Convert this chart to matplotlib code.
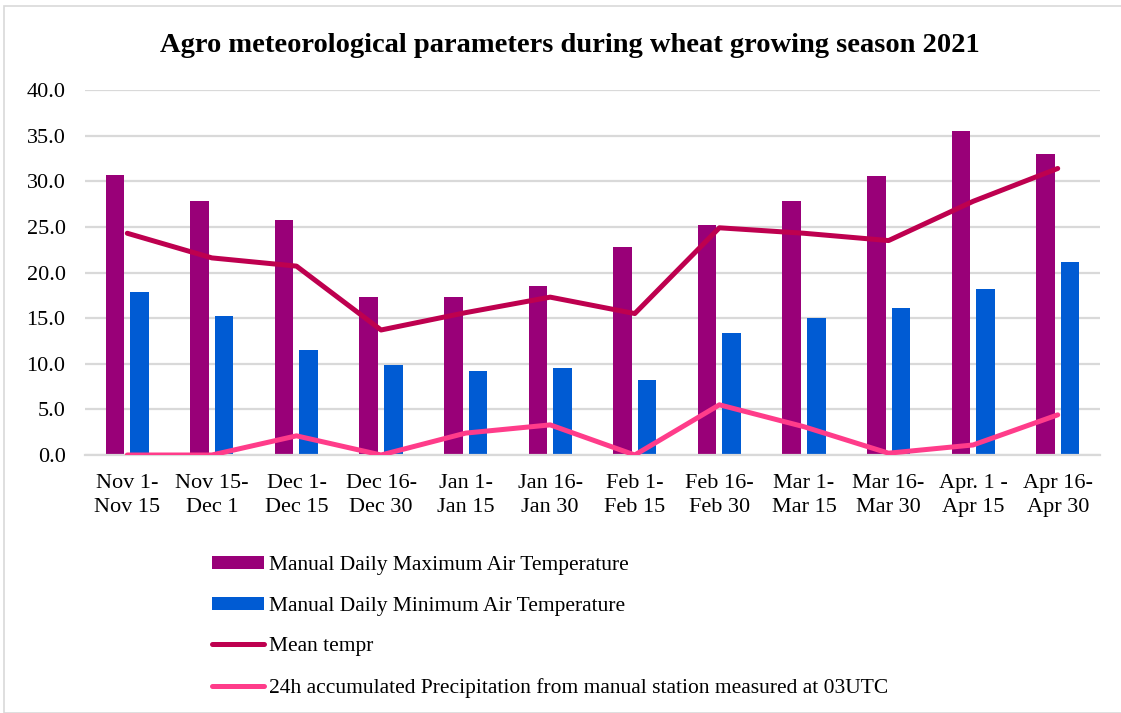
import numpy as np
import matplotlib
matplotlib.use("Agg")
import matplotlib.pyplot as plt
from matplotlib.patches import Rectangle

# data
periods = ["Nov 1-\nNov 15", "Nov 15-\nDec 1", "Dec 1-\nDec 15", "Dec 16-\nDec 30",
           "Jan 1-\nJan 15", "Jan 16-\nJan 30", "Feb 1-\nFeb 15", "Feb 16-\nFeb 30",
           "Mar 1-\nMar 15", "Mar 16-\nMar 30", "Apr. 1 -\nApr 15", "Apr 16-\nApr 30"]
t_max = [30.7, 27.8, 25.7, 17.3, 17.3, 18.5, 22.8, 25.2, 27.8, 30.6, 35.5, 33.0]
t_min = [17.9, 15.2, 11.5, 9.9, 9.2, 9.5, 8.2, 13.4, 15.0, 16.1, 18.2, 21.1]
t_mean = [24.3, 21.6, 20.7, 13.7, 15.6, 17.3, 15.5, 24.9, 24.3, 23.5, 27.8, 31.4]
precip = [0.0, 0.0, 2.1, 0.0, 2.4, 3.3, 0.0, 5.5, 3.1, 0.2, 1.1, 4.4]
yticks = [0, 5, 10, 15, 20, 25, 30, 35, 40]

c_max = "#990078"
c_min = "#005BD3"
c_mean = "#BE004F"
c_prec = "#FF3C8A"
c_grid = "#D9D9D9"

plt.rcParams["font.family"] = ["Liberation Serif", "DejaVu Serif"]

fig = plt.figure(figsize=(11.21, 7.13), dpi=100)
ax = fig.add_axes([85 / 1121, 1 - 455 / 713, 1015 / 1121, 365 / 713])

x = np.arange(len(periods))
w = 0.22
ax.bar(x - 0.145, t_max, width=w, color=c_max, zorder=2,
       label="Manual Daily Maximum Air Temperature")
ax.bar(x + 0.145, t_min, width=w, color=c_min, zorder=2,
       label="Manual Daily Minimum Air Temperature")
ax.plot(x, t_mean, color=c_mean, lw=3.6, solid_joinstyle="round",
        solid_capstyle="round", zorder=3, label="Mean tempr")
ax.plot(x, precip, color=c_prec, lw=3.6, solid_joinstyle="round",
        solid_capstyle="round", zorder=3,
        label="24h accumulated Precipitation from manual station measured at 03UTC")

ax.set_xlim(-0.5, len(periods) - 0.5)
ax.set_ylim(0, 40)
ax.set_yticks(yticks)
ax.set_yticklabels([f"{v:.1f}" for v in yticks])
ax.set_xticks(x)
ax.set_xticklabels(periods, linespacing=1.35)
ax.tick_params(axis="both", length=0, labelsize=16)
ax.tick_params(axis="y", pad=14)
ax.tick_params(axis="x", pad=14)
ax.grid(axis="y", color=c_grid, lw=1.6, zorder=0)
for s in ["top", "right", "left"]:
    ax.spines[s].set_visible(False)
ax.spines["bottom"].set_color(c_grid)
ax.spines["bottom"].set_linewidth(1.6)

fig.suptitle("Agro meteorological parameters during wheat growing season 2021",
             x=0.508, y=1 - 45 / 713, va="center", fontsize=20.5, fontweight="bold")

handles, labels = ax.get_legend_handles_labels()
order = [2, 3, 0, 1]
fig.legend([handles[i] for i in order], [labels[i] for i in order],
           loc="upper left", bbox_to_anchor=(212 / 1121, 1 - 556 / 713),
           frameon=False, fontsize=15.5, labelspacing=1.0, handlelength=2.4,
           handleheight=0.55, handletextpad=0.25, borderaxespad=0, borderpad=0)

# thin frame of the chart area
fig.patches.append(Rectangle((4 / 1121, 0), 1.2, 1 - 6 / 713, transform=fig.transFigure,
                             fill=False, edgecolor=c_grid, lw=1.2))

fig.savefig("out.png", dpi=100)
